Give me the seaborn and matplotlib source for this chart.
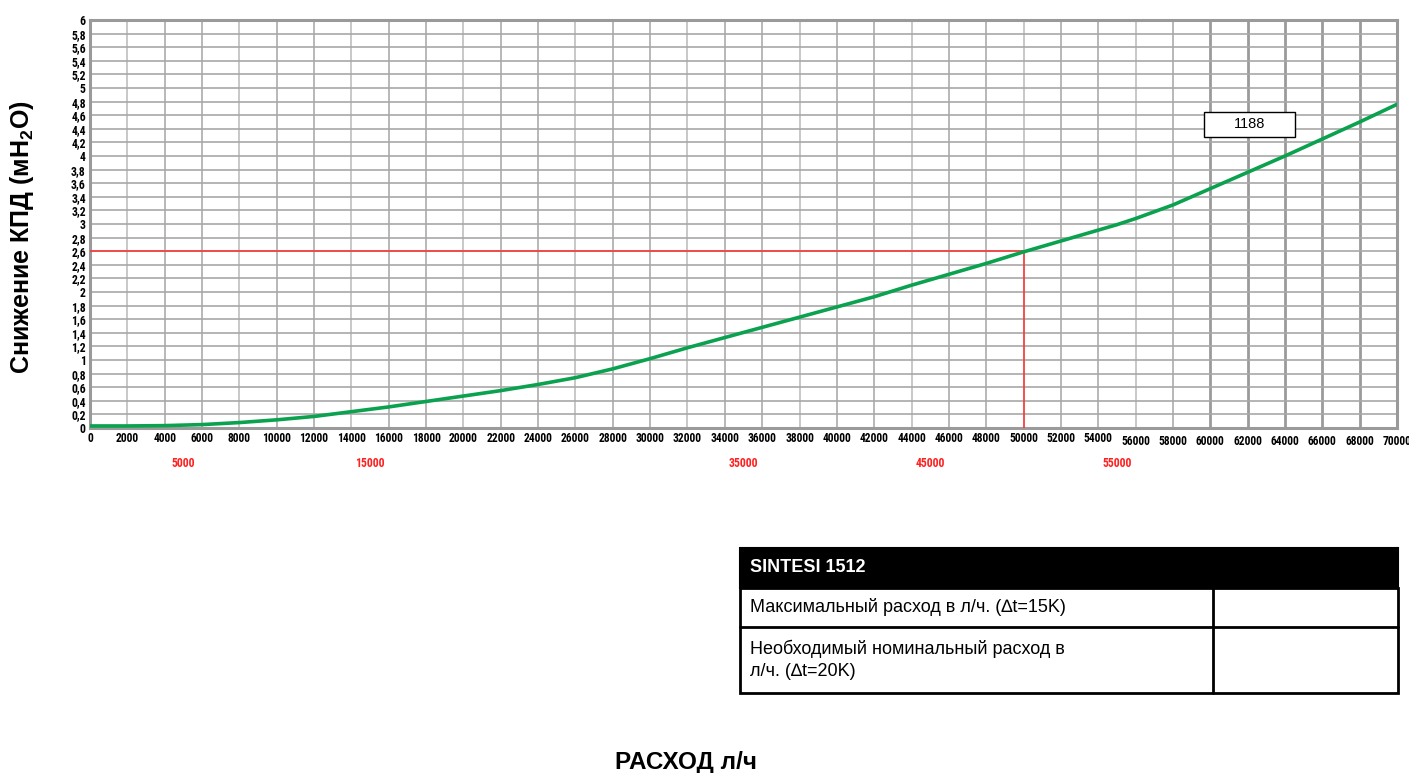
import matplotlib
matplotlib.use("Agg")
import matplotlib.pyplot as plt
import seaborn as sns
import numpy as np
import pandas as pd
from matplotlib.patches import Rectangle

# данные кривой (расход л/ч -> снижение, мН2О)
flow = [0, 2000, 4000, 6000, 8000, 10000, 12000, 14000, 16000, 18000, 20000,
        22000, 24000, 26000, 28000, 30000, 32000, 34000, 36000, 38000, 40000,
        42000, 44000, 46000, 48000, 50000, 52000, 54000, 55000, 56000, 58000,
        60000, 62000, 64000, 66000, 68000, 70000]
head = [0.03, 0.03, 0.035, 0.05, 0.08, 0.12, 0.17, 0.24, 0.31, 0.39, 0.47,
        0.55, 0.64, 0.74, 0.87, 1.02, 1.18, 1.33, 1.48, 1.63, 1.78,
        1.93, 2.1, 2.26, 2.42, 2.59, 2.75, 2.91, 2.99, 3.08, 3.28,
        3.52, 3.76, 4.0, 4.25, 4.5, 4.76]

x_ticks = list(range(0, 70001, 2000))
y_ticks = [round(v * 0.2, 1) for v in range(0, 31)]
red_ticks = [5000, 15000, 35000, 45000, 55000]
work_point = (50000, 2.6)
model_label = "1188"
table_title = "SINTESI 1512"
table_rows = ["Максимальный расход в л/ч. (\u2206t=15K)",
              "Необходимый номинальный расход в\nл/ч. (\u2206t=20K)"]

sns.set_style("white")
plt.rcParams["font.family"] = ["Liberation Sans", "DejaVu Sans"]
plt.rcParams["text.color"] = "black"
plt.rcParams["mathtext.fontset"] = "custom"
plt.rcParams["mathtext.rm"] = "Liberation Sans:bold"
plt.rcParams["mathtext.bf"] = "Liberation Sans:bold"
narrow = ["Roboto Condensed", "Archivo Narrow", "DejaVu Sans"]

fig = plt.figure(figsize=(14.09, 7.73), dpi=100)
ax = fig.add_axes([90 / 1409, 1 - 428 / 773, 1307 / 1409, 408 / 773])

# сетка
for xv in x_ticks:
    if xv >= 60000:
        ax.axvline(xv, color="#9a9a9a", lw=2.0, zorder=1)
    elif (xv // 2000) % 3 == 1:
        ax.axvline(xv, color="#c8c8c8", lw=1.4, zorder=1)
    else:
        ax.axvline(xv, color="#acacac", lw=1.2, zorder=1)
for yv in y_ticks:
    ax.axhline(yv, color="#a8a8a8", lw=1.2, zorder=1)

df = pd.DataFrame({"flow": flow, "head": head})
sns.lineplot(data=df, x="flow", y="head", color="#0aa14f", lw=2.6, ax=ax, zorder=4)

# рабочая точка
ax.plot([0, work_point[0]], [work_point[1], work_point[1]], color="#ff3030", lw=1.1, zorder=3)
ax.plot([work_point[0], work_point[0]], [0, work_point[1]], color="#ff3030", lw=1.1, zorder=3)

ax.set_xlim(0, 70000)
ax.set_ylim(0, 6)
ax.set_xticks(x_ticks)
ax.set_xticklabels([str(v) for v in x_ticks], family=narrow, fontweight="bold",
                   fontsize=8.3, color="black")
ax.set_yticks(y_ticks)
ax.set_yticklabels([("%g" % v).replace(".", ",") for v in y_ticks], family=narrow,
                   fontweight="bold", fontsize=8.5, color="black")
ax.tick_params(length=0, pad=3)
for lbl, v in zip(ax.get_xticklabels(), x_ticks):
    if v >= 56000:
        lbl.set_y(-0.008)
ax.set_xlabel("")
ax.set_ylabel("")
for s in ax.spines.values():
    s.set_color("#9a9a9a")
    s.set_linewidth(2.2)

for v in red_ticks:
    ax.text(v, -0.42, str(v), color="#ff2020", ha="center", va="top", family=narrow,
            fontweight="bold", fontsize=8.5, clip_on=False)

# метка модели
ax.add_patch(Rectangle((59650, 4.28), 4900, 0.37, fc="white", ec="black", lw=1.0, zorder=6))
ax.text(62100, 4.465, model_label, ha="center", va="center", fontsize=10.5, zorder=7)

fig.text(22 / 1409, 1 - 237 / 773, "Снижение КПД (мН$_{\\mathrm{2}}$О)", rotation=90, ha="center",
         va="center", fontsize=18, fontweight="bold")
fig.text(686 / 1409, 1 - 762 / 773, "РАСХОД л/ч", ha="center", va="center",
         fontsize=17.5, fontweight="bold")

# таблица
tx0, tx1, tdiv = 740 / 1409, 1398 / 1409, 1213 / 1409
ty = [1 - 548 / 773, 1 - 588 / 773, 1 - 627 / 773, 1 - 693 / 773]
fig.patches.append(Rectangle((tx0, ty[1]), tx1 - tx0, ty[0] - ty[1], transform=fig.transFigure,
                             fc="black", ec="black", lw=1.5))
fig.patches.append(Rectangle((tx0, ty[3]), tx1 - tx0, ty[1] - ty[3], transform=fig.transFigure,
                             fc="none", ec="black", lw=2))
fig.lines.append(plt.Line2D([tx0, tx1], [ty[2], ty[2]], transform=fig.transFigure, color="black", lw=2))
fig.lines.append(plt.Line2D([tdiv, tdiv], [ty[3], ty[1]], transform=fig.transFigure, color="black", lw=2))
fig.text(tx0 + 10 / 1409, (ty[0] + ty[1]) / 2, table_title, color="white", fontweight="bold",
         fontsize=13, va="center")
fig.text(tx0 + 10 / 1409, (ty[1] + ty[2]) / 2, table_rows[0], fontsize=13, va="center")
fig.text(tx0 + 10 / 1409, (ty[2] + ty[3]) / 2, table_rows[1], fontsize=13, va="center",
         linespacing=1.35)

fig.savefig("out.png", dpi=100)
